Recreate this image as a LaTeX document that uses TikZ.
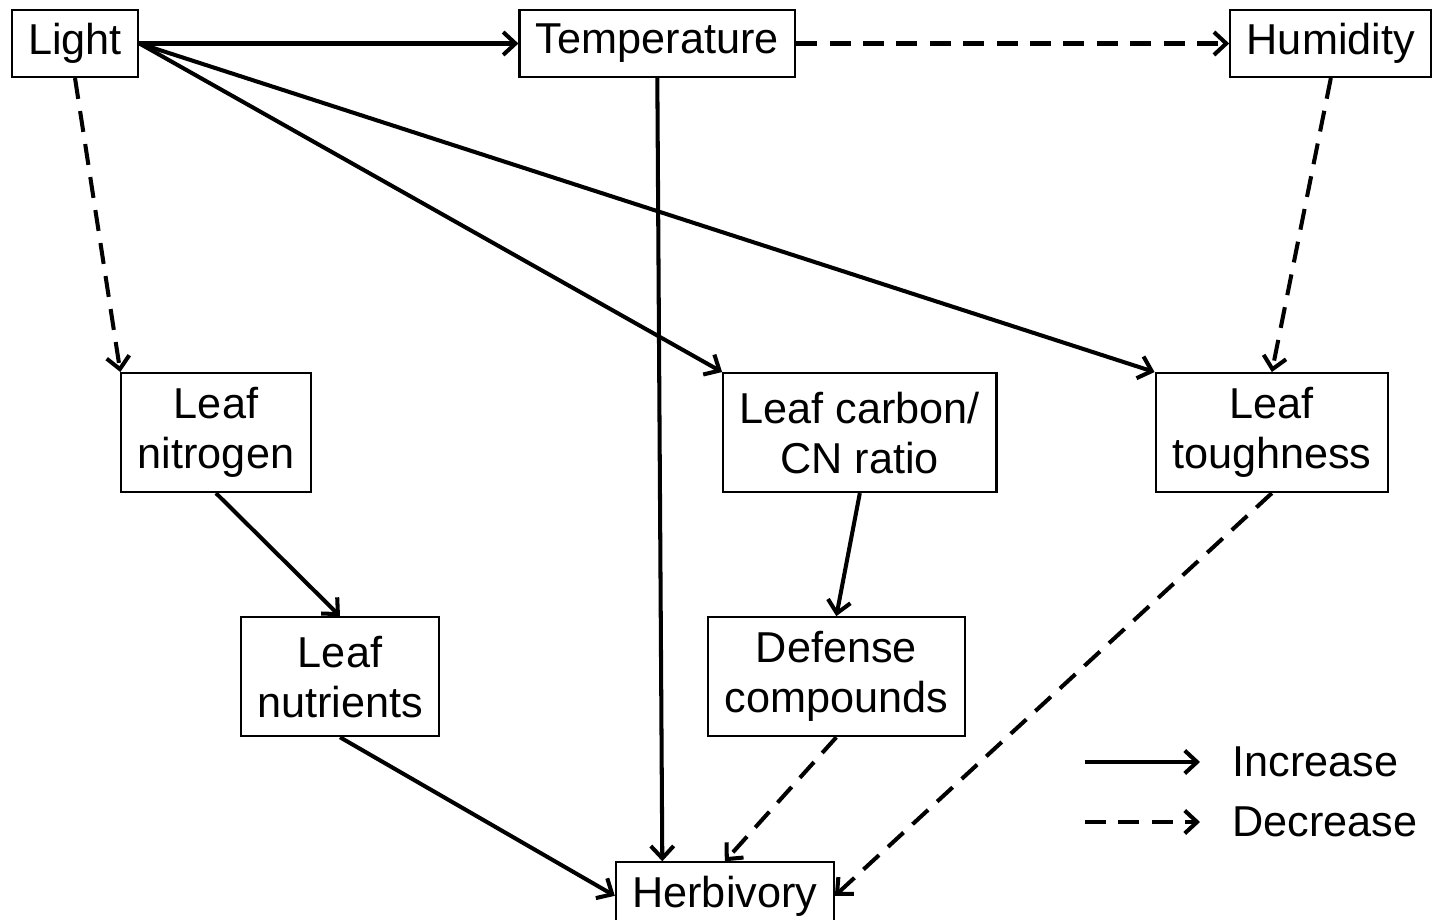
\documentclass[tikz,border=0pt]{standalone}
\usepackage{fontspec}
\setmainfont{Liberation Sans}
\usetikzlibrary{arrows.meta,positioning}
\tikzset{factor/.style={
    % The shape:
    rectangle,
    % The size:
    minimum height=13.4mm,
    inner xsep=3.3mm,
    inner ysep=1mm,
    % The border:
    draw=black,
    line width=1.2pt,
    % Font
    align=center,
    font=\fontsize{24.6}{28.5}\selectfont
    },
    twoline/.style={
    factor,
    minimum height=23.8mm,
    },
    legendtext/.style={
    anchor=west,
    inner sep=0pt,
    font=\fontsize{24.6}{28.5}\selectfont
    },
    increase/.style={
    line width=2.3pt,
    -{Straight Barb[length=7pt,width=13pt]},
    },
    decrease/.style={
    increase,
    dash pattern=on 12pt off 7pt,
    },
}

\begin{document}
\begin{tikzpicture}[node distance = 58.8mm and 75.8mm]
    \useasboundingbox (-1.5,-17.53) rectangle (27.3,0.87);

    \node (light)     [factor]                                          {Light};
    \node (temp)      [factor,right=75.8mm of light]                    {Temperature};
    \node (humid)     [factor,right=86.6mm of temp]                     {Humidity};

    \node (nitrogen)  [twoline,below=of light,xshift=28.2mm]            {Leaf\\nitrogen};
    \node (carbon)    [twoline,below=of temp,xshift=40.5mm]             {Leaf carbon/\\CN ratio};
    \node (tough)     [twoline,below=of humid,xshift=-11.8mm]           {Leaf\\toughness};

    \node (nutrients) [twoline,below=24.6mm of nitrogen,xshift=24.8mm]  {Leaf\\nutrients};
    \node (defense)   [twoline,below=24.6mm of carbon,xshift=-4.7mm]    {Defense\\compounds};
    \node (herb)      [factor,below=24.8mm of defense,xshift=-22.3mm]   {Herbivory};

    \draw[increase] (light.east) -- (temp.west);
    \draw[decrease] (temp.east) -- (humid.west);
    \draw[decrease] (light.south) -- (nitrogen.north west);
    \draw[increase] (light.east) -- (carbon.north west);
    \draw[increase] (light.east) -- (tough.north west);
    \draw[increase] (temp.south) -- ([xshift=-12.5mm]herb.north);
    \draw[decrease] (humid.south) -- (tough.north);
    \draw[increase] (nitrogen.south) -- (nutrients.north);
    \draw[increase] (carbon.south) -- (defense.north);
    \draw[increase] (nutrients.south) -- (herb.west);
    \draw[decrease] (defense.south) -- (herb.north);
    \draw[decrease] (tough.south) -- (herb.east);

    % legend
    \node (inc) [legendtext] at (23.14,-14.37) {Increase};
    \node (dec) [legendtext] at (23.14,-15.57) {Decrease};
    \coordinate (incfrom) at (20.2,-14.37);
    \coordinate (decfrom) at (20.2,-15.57);
    \draw[increase,shorten >=6.4mm] (incfrom) -- (inc.west);
    \draw[decrease,shorten >=6.4mm] (decfrom) -- (dec.west);
\end{tikzpicture}
\end{document}
